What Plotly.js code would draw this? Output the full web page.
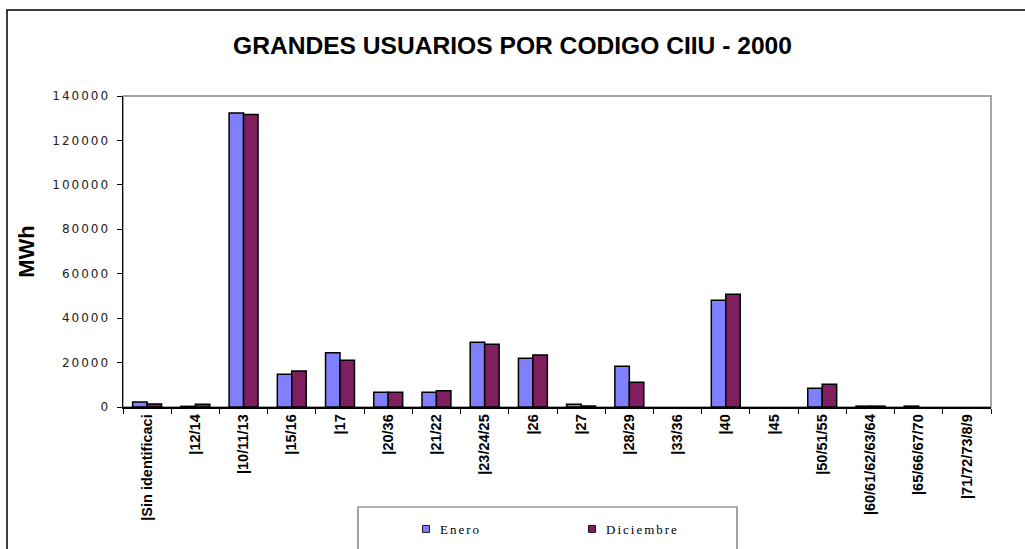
<!DOCTYPE html>
<html>
<head>
<meta charset="utf-8">
<script src="https://cdn.plot.ly/plotly-3.0.1.min.js"></script>
<style>
  body { margin: 0; background: #fff; }
  #chart { width: 1025px; height: 549px; }
  .ytick text { letter-spacing: 2px; }
  .legendtext { letter-spacing: 2px; }
  .legendpoints path { transform: translate(26px, 0px) scale(0.58); }
</style>
</head>
<body>
<div id="chart"></div>
<script>
// categorias CIIU (como se ven en el eje)
var codigos = ["Sin identificaci", "12/14", "10/11/13", "15/16", "17", "20/36", "21/22",
  "23/24/25", "26", "27", "28/29", "33/36", "40", "45", "50/51/55",
  "60/61/62/63/64", "65/66/67/70", "71/72/73/8/9"];

// MWh (null = sin barra)
var enero = [2200, 300, 132400, 14700, 24400, 6600, 6600, 29100, 21900, 1200,
  18300, null, 48000, null, 8400, 400, 400, null];
var diciembre = [1400, 1200, 131700, 16200, 21000, 6600, 7300, 28200, 23400, 450,
  11100, null, 50800, null, 10200, 400, null, null];

var etiquetas = codigos.map(function (c) { return "|" + c; });

var azul = "#8080FF";
var vino = "#801F5F";

var t1 = {
  x: codigos, y: enero, type: 'bar', name: 'Enero',
  marker: { color: azul, line: { color: '#000', width: 1.5 } }
};
var t2 = {
  x: codigos, y: diciembre, type: 'bar', name: 'Diciembre',
  marker: { color: vino, line: { color: '#000', width: 1.5 } }
};

// plot area: x 123..991, y 96..407
var L = 123, R = 991, T = 96, B = 407;
function px(x) { return (x - L) / (R - L); }
function py(y) { return (B - y) / (B - T); }

var layout = {
  width: 1025, height: 549,
  margin: { l: L, r: 1025 - R, t: T, b: 549 - B },
  paper_bgcolor: '#fff', plot_bgcolor: '#fff',
  barmode: 'group', bargap: 0.4, bargroupgap: 0,
  showlegend: true,
  title: {
    text: 'GRANDES USUARIOS POR CODIGO CIIU - 2000',
    font: { family: 'Liberation Sans, Arial', size: 24.6, color: '#000', weight: 'bold' },
    xref: 'container', x: 0.5, yref: 'container', y: 1 - 45 / 549, yanchor: 'middle'
  },
  xaxis: {
    type: 'category',
    tickmode: 'array', tickvals: codigos, ticktext: etiquetas,
    tickangle: -90, tickson: 'boundaries',
    ticks: 'outside', ticklen: 5, tickcolor: '#000', tickwidth: 1,
    showline: true, linecolor: '#000', linewidth: 1.5,
    showgrid: false, zeroline: false,
    tickfont: { family: 'Liberation Sans, Arial', size: 14.5, color: '#000', weight: 'bold' },
    automargin: false
  },
  yaxis: {
    range: [0, 140000], dtick: 20000, tickformat: 'd',
    ticks: 'outside', ticklen: 5, tickcolor: '#000', tickwidth: 1,
    showline: true, linecolor: '#000', linewidth: 1.5,
    showgrid: false, zeroline: false,
    ticklabelstandoff: 4,
    tickfont: { family: 'DejaVu Sans', size: 12, color: '#222' },
    title: {
      text: 'MWh', standoff: 11,
      font: { family: 'Liberation Sans, Arial', size: 22, color: '#000', weight: 'bold' }
    },
    automargin: false
  },
  legend: {
    orientation: 'h',
    x: px(400), xanchor: 'left',
    yref: 'container', y: 1 - 529 / 549, yanchor: 'middle',
    bgcolor: 'rgba(0,0,0,0)', borderwidth: 0,
    entrywidth: 121, entrywidthmode: 'pixels',
    font: { family: 'Liberation Serif, Times New Roman', size: 13, color: '#000' }
  },
  shapes: [
    // marco gris del area de trazado
    { type: 'rect', xref: 'paper', yref: 'paper', x0: 0, x1: 1, y0: 0, y1: 1,
      line: { color: '#888', width: 1.5 }, layer: 'below' },
    // caja de la leyenda
    { type: 'rect', xref: 'paper', yref: 'paper', x0: px(358), x1: px(737), y0: py(600), y1: py(507),
      line: { color: '#666', width: 1.2 } },
    // borde exterior
    { type: 'rect', xref: 'paper', yref: 'paper', x0: px(7), x1: px(1100), y0: py(700), y1: py(10),
      line: { color: '#000', width: 1.5 } }
  ]
};

Plotly.newPlot('chart', [t1, t2], layout, { staticPlot: true });
</script>
</body>
</html>
